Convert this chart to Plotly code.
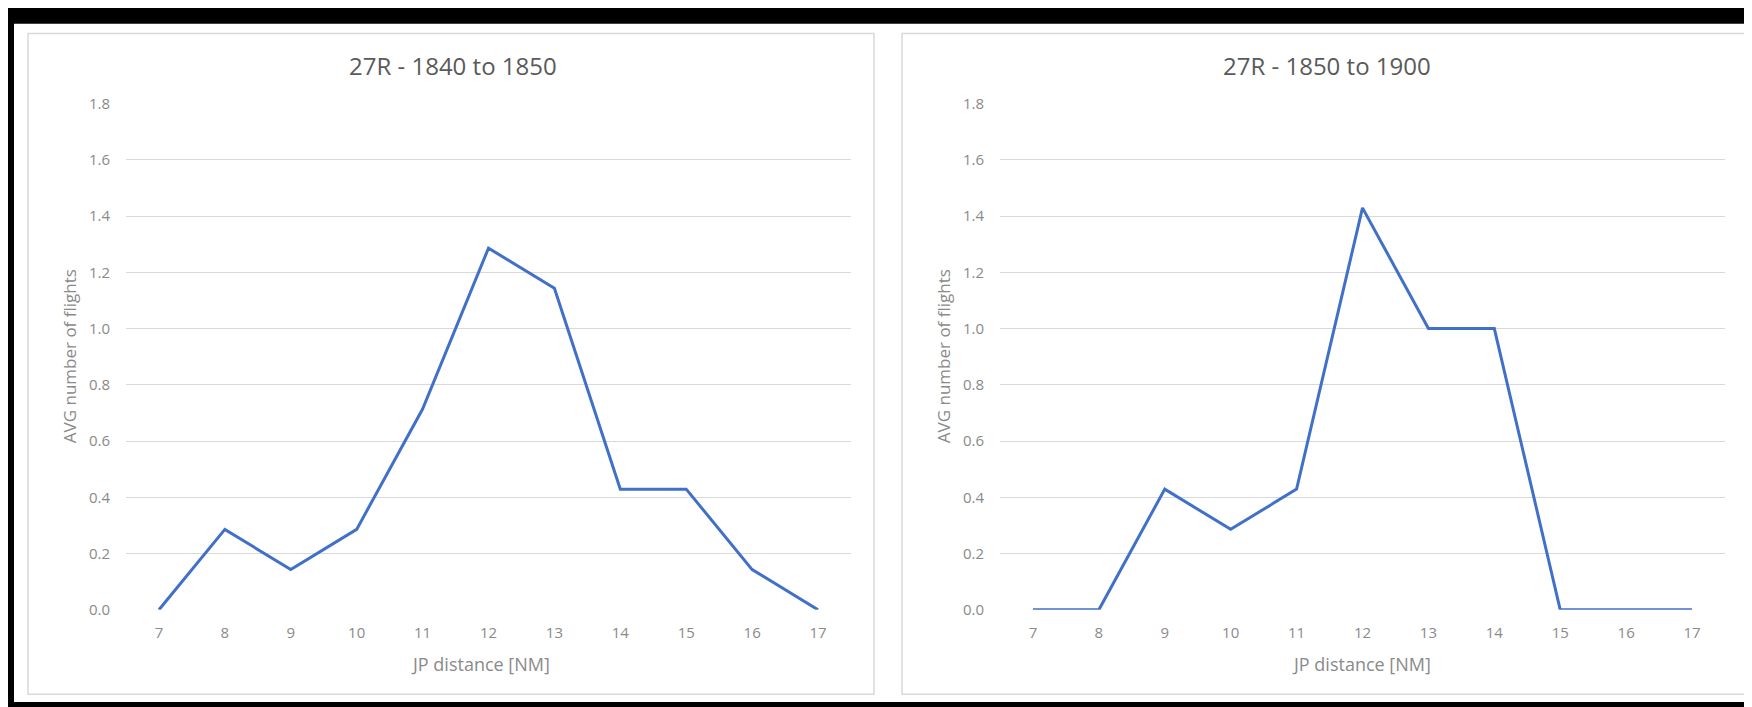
import plotly.graph_objects as go

# ---- data ----
distance = [7, 8, 9, 10, 11, 12, 13, 14, 15, 16, 17]
avg_1840_1850 = [0.0, 0.286, 0.143, 0.286, 0.714, 1.286, 1.143, 0.429, 0.429, 0.143, 0.0]
avg_1850_1900 = [0.0, 0.0, 0.429, 0.286, 0.429, 1.429, 1.0, 1.0, 0.0, 0.0, 0.0]
titles = ["27R - 1840 to 1850", "27R - 1850 to 1900"]
x_title = "JP distance [NM]"
y_title = "AVG number of flights"

W, H = 1752, 707
FONT = "Open Sans, Arial"
LINE_COLOR = "#4170c8"
GRID = "#d9d9d9"
TICK_COLOR = "#8a8a8a"
TITLE_COLOR = "#5a5a5a"

def px(x):
    return x / W

def py(y):
    return 1 - y / H

fig = go.Figure()
fig.add_trace(go.Scatter(x=distance, y=avg_1840_1850, mode="lines",
                         line=dict(color=LINE_COLOR, width=3), xaxis="x", yaxis="y",
                         showlegend=False))
fig.add_trace(go.Scatter(x=distance, y=avg_1850_1900, mode="lines",
                         line=dict(color=LINE_COLOR, width=3), xaxis="x2", yaxis="y2",
                         showlegend=False))

plot_top, plot_bottom = 87, 608
left_dom = [px(118), px(843)]
right_dom = [px(992), px(1717)]
ydom = [py(plot_bottom), py(plot_top)]

xax = dict(range=[6.5, 17.5], tickvals=distance, showgrid=False, zeroline=False,
           showline=False, ticks="", tickfont=dict(family=FONT, size=15, color=TICK_COLOR),
           ticklabelstandoff=12, fixedrange=True)
yax = dict(range=[0, 1.8], dtick=0.2, tick0=0, tickformat=".1f", showgrid=True,
           gridcolor=GRID, gridwidth=1, zeroline=False, showline=False, ticks="",
           tickfont=dict(family=FONT, size=15, color=TICK_COLOR), ticklabelstandoff=15,
           fixedrange=True)

fig.update_layout(
    width=W, height=H,
    margin=dict(l=0, r=0, t=0, b=0),
    paper_bgcolor="black",
    plot_bgcolor="rgba(0,0,0,0)",
    xaxis=dict(domain=left_dom, anchor="y", **xax),
    yaxis=dict(domain=ydom, anchor="x", **yax),
    xaxis2=dict(domain=right_dom, anchor="y2", **xax),
    yaxis2=dict(domain=ydom, anchor="x2", **yax),
)

# white sheet behind the two chart areas
fig.add_shape(type="rect", xref="paper", yref="paper", layer="below",
              x0=px(6), x1=px(1747), y0=py(703), y1=py(5),
              fillcolor="white", line=dict(width=0))
# chart-area borders
panels = [(20, 15, 866, 695), (894, 15, 1740, 695)]
for (x0, y0, x1, y1) in panels:
    fig.add_shape(type="rect", xref="paper", yref="paper", layer="below",
                  x0=px(x0), x1=px(x1), y0=py(y1), y1=py(y0),
                  fillcolor="white", line=dict(color="#d9d9d9", width=1.5))

# small scrollbar artifact on the right edge
fig.add_shape(type="rect", xref="paper", yref="paper", layer="above",
              x0=px(1747), x1=px(1751), y0=py(477), y1=py(414),
              fillcolor="#5a5a5a", line=dict(width=0))

# titles and axis titles
title_x = [445, 1319]
ytitle_x = [61, 935]
xtitle_x = [472, 1353]
for i in range(2):
    fig.add_annotation(text=titles[i], xref="paper", yref="paper",
                       x=px(title_x[i]), y=py(48), xanchor="center", yanchor="middle",
                       showarrow=False,
                       font=dict(family=FONT, size=24, color=TITLE_COLOR))
    fig.add_annotation(text=x_title, xref="paper", yref="paper",
                       x=px(xtitle_x[i]), y=py(664), xanchor="center", yanchor="middle",
                       showarrow=False,
                       font=dict(family=FONT, size=18, color=TICK_COLOR))
    fig.add_annotation(text=y_title, xref="paper", yref="paper", textangle=-90,
                       x=px(ytitle_x[i]), y=py(347), xanchor="center", yanchor="middle",
                       showarrow=False,
                       font=dict(family=FONT, size=17, color=TICK_COLOR))

fig.write_html("out.html")
